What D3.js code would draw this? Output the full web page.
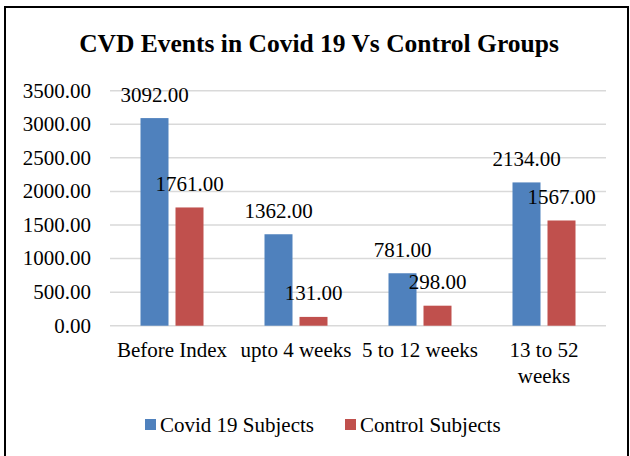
<!DOCTYPE html>
<html>
<head>
<meta charset="utf-8">
<script src="https://d3js.org/d3.v7.min.js"></script>
<style>
  body { margin: 0; background: #fff; }
  svg text { font-family: "Liberation Serif", "Times New Roman", "DejaVu Serif", serif; fill: #000; }
</style>
</head>
<body>
<div id="chart"></div>
<script>
var categories = [["Before Index"], ["upto 4 weeks"], ["5 to 12 weeks"], ["13 to 52", "weeks"]];
var seriesNames = ["Covid 19 Subjects", "Control Subjects"];
var covidValues = [3092, 1362, 781, 2134];
var controlValues = [1761, 131, 298, 1567];
var yTicks = [0, 500, 1000, 1500, 2000, 2500, 3000, 3500];

var width = 630, height = 456;
var colors = ["#4f81bd", "#c0504d"];
var FONT = 21;

var svg = d3.select("#chart").append("svg")
    .attr("width", width)
    .attr("height", height);

// frame
svg.append("rect")
    .attr("x", 5).attr("y", 7)
    .attr("width", 623).attr("height", 470)
    .attr("fill", "none")
    .attr("stroke", "#000")
    .attr("stroke-width", 2);

svg.append("text")
    .attr("x", 319).attr("y", 52)
    .attr("text-anchor", "middle")
    .style("font-size", "25.5px")
    .style("font-weight", "bold")
    .text("CVD Events in Covid 19 Vs Control Groups");

var plot = {left: 110, right: 606, top: 90.7, bottom: 325.7};

var y = d3.scaleLinear().domain([0, 3500]).range([plot.bottom, plot.top]);
var catKeys = categories.map(function(c) { return c.join(" "); });
var x0 = d3.scaleBand().domain(catKeys).range([plot.left, plot.right]).padding(0);
var x1 = d3.scaleBand().domain(seriesNames)
    .range([30.5, x0.bandwidth() - 30.5])
    .paddingInner(0.2);

// gridlines
svg.append("g").selectAll("line")
    .data(yTicks).enter().append("line")
    .attr("x1", plot.left).attr("x2", plot.right)
    .attr("y1", function(d) { return y(d); })
    .attr("y2", function(d) { return y(d); })
    .attr("stroke", "#d9d9d9")
    .attr("stroke-width", 1.5);

// y axis labels
svg.append("g").selectAll("text")
    .data(yTicks).enter().append("text")
    .attr("x", 91)
    .attr("y", function(d) { return y(d); })
    .attr("dy", "0.33em")
    .attr("text-anchor", "end")
    .style("font-size", FONT + "px")
    .text(function(d) { return d3.format(".2f")(d); });

var rows = catKeys.map(function(k, i) {
    return {key: k, values: [covidValues[i], controlValues[i]]};
});

var groups = svg.append("g").selectAll("g")
    .data(rows).enter().append("g")
    .attr("transform", function(d) { return "translate(" + x0(d.key) + ",0)"; });

var bars = groups.selectAll("g")
    .data(function(d) {
        return d.values.map(function(v, j) { return {name: seriesNames[j], value: v, idx: j}; });
    })
    .enter().append("g");

bars.append("rect")
    .attr("x", function(d) { return x1(d.name); })
    .attr("y", function(d) { return y(d.value); })
    .attr("width", x1.bandwidth())
    .attr("height", function(d) { return y(0) - y(d.value); })
    .attr("fill", function(d) { return colors[d.idx]; });

bars.append("text")
    .attr("x", function(d) { return x1(d.name) + x1.bandwidth() / 2; })
    .attr("y", function(d) { return y(d.value) - 16.5; })
    .attr("text-anchor", "middle")
    .style("font-size", FONT + "px")
    .text(function(d) { return d3.format(".2f")(d.value); });

// category labels
var catLabels = svg.append("g").selectAll("text")
    .data(categories).enter().append("text")
    .attr("x", function(d, i) { return x0(catKeys[i]) + x0.bandwidth() / 2; })
    .attr("y", 357)
    .attr("text-anchor", "middle")
    .style("font-size", FONT + "px");
catLabels.selectAll("tspan")
    .data(function(d) { return d; })
    .enter().append("tspan")
    .attr("x", function() { return d3.select(this.parentNode).attr("x"); })
    .attr("dy", function(d, i) { return i === 0 ? 0 : 26; })
    .text(function(d) { return d; });

// legend
var legendX = [145, 345];
var legend = svg.append("g").selectAll("g")
    .data(seriesNames).enter().append("g")
    .attr("transform", function(d, i) { return "translate(" + legendX[i] + ",419)"; });
legend.append("rect")
    .attr("width", 11).attr("height", 11)
    .attr("fill", function(d, i) { return colors[i]; });
legend.append("text")
    .attr("x", 15).attr("y", 12.5)
    .style("font-size", FONT + "px")
    .text(function(d) { return d; });
</script>
</body>
</html>
